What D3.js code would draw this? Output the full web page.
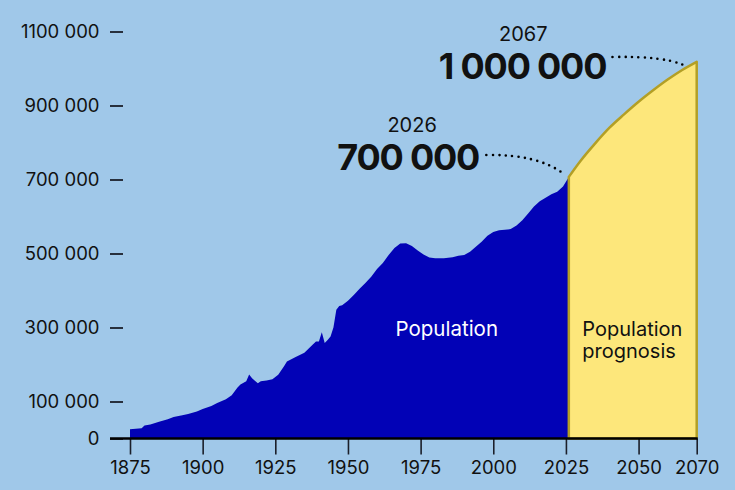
<!DOCTYPE html>
<html>
	<head>
		<title>Population and prognosis</title>
		<script src="https://cdnjs.cloudflare.com/ajax/libs/d3/7.8.5/d3.min.js"></script>
		<style>
			html, body {
				margin: 0;
				padding: 0;
				background: #a0c8e9;
			}
			svg text {
				font-family: Inter, "Liberation Sans", sans-serif;
				fill: #111;
			}
			.axis text {
				font-size: 18.5px;
			}
			.axis line {
				stroke: #1b1f2a;
			}
		</style>
	</head>
	<body>
		<div id="chart"></div>
		<script>
			// population, in thousands
			var histYears = [1875, 1878, 1879, 1880, 1882, 1885, 1888, 1890, 1893, 1895, 1898, 1900,
				1903, 1905, 1908, 1910, 1912, 1913, 1915, 1916, 1917, 1919, 1920, 1922, 1924, 1926,
				1928, 1929, 1932, 1935, 1938, 1939, 1940, 1941, 1942, 1943, 1944, 1945, 1946, 1947,
				1948, 1950, 1952, 1954, 1956, 1958, 1960, 1962, 1964, 1966, 1968, 1970, 1972, 1974,
				1976, 1978, 1980, 1983, 1986, 1988, 1990, 1992, 1994, 1996, 1998, 2000, 2002, 2004,
				2006, 2008, 2010, 2012, 2014, 2016, 2018, 2020, 2022, 2024, 2026];
			var histValues = [25, 27, 28, 35, 38, 45, 52, 58, 63, 66, 73, 80,
				88, 96, 106, 117, 138, 146, 155, 173, 163, 149, 155, 157, 160, 172,
				195, 208, 220, 232, 255, 262, 262, 287, 258, 266, 276, 300, 348, 358,
				360, 372, 388, 405, 420, 437, 458, 474, 496, 515, 527, 528, 520, 508,
				497, 489, 487, 487, 490, 494, 496, 505, 518, 532, 548, 558, 563, 564,
				566, 576, 590, 608, 627, 641, 651, 660, 667, 681, 707];

			var progYears = [2026, 2030, 2035, 2040, 2045, 2050, 2055, 2060, 2065, 2070];
			var progValues = [707, 750, 797, 840, 876, 910, 941, 970, 996, 1018];

			var xTicks = [1875, 1900, 1925, 1950, 1975, 2000, 2025, 2050, 2070];
			var yTicks = [0, 100, 300, 500, 700, 900, 1100];
			var yTickLabels = ["0", "100 000", "300 000", "500 000", "700 000", "900 000", "1100 000"];

			var annoYears = [2026, 2067];
			var annoValues = [700, 1000];
			var annoLabels = ["700 000", "1 000 000"];

			var areaLabels = ["Population", "Population", "prognosis"];

			var width = 735,
				height = 490;

			var x = d3.scaleLinear().domain([1875, 2070]).range([130, 696.7]);
			var y = d3.scaleLinear().domain([0, 1100]).range([438.5, 31.5]);

			var hist = histYears.map(function(d, i) { return {year: d, value: histValues[i]}; });
			var prog = progYears.map(function(d, i) { return {year: d, value: progValues[i]}; });

			var svg = d3.select("#chart")
				.append("svg")
				.attr("width", width)
				.attr("height", height);

			svg.append("rect")
				.attr("width", width)
				.attr("height", height)
				.attr("fill", "#a0c8e9");

			var area = d3.area()
				.x(function(d) { return x(d.year); })
				.y0(y(0))
				.y1(function(d) { return y(d.value); });

			svg.append("path")
				.datum(hist)
				.attr("d", area)
				.attr("fill", "#0202b6");

			var progArea = d3.area()
				.curve(d3.curveMonotoneX)
				.x(function(d) { return x(d.year); })
				.y0(y(0))
				.y1(function(d) { return y(d.value); });

			svg.append("path")
				.datum(prog)
				.attr("d", progArea)
				.attr("fill", "#fde77b")
				.attr("stroke", "#b39f25")
				.attr("stroke-width", 2.5)
				.attr("stroke-linejoin", "round");

			// area labels
			svg.append("text")
				.attr("x", x(1984))
				.attr("y", 335.5)
				.attr("text-anchor", "middle")
				.style("font-size", "20.5px")
				.style("fill", "#fff")
				.text(areaLabels[0]);

			svg.append("text")
				.attr("x", x(2026) + 13.5)
				.attr("y", 335.5)
				.style("font-size", "20px")
				.text(areaLabels[1]);

			svg.append("text")
				.attr("x", x(2026) + 13.5)
				.attr("y", 358)
				.style("font-size", "20px")
				.text(areaLabels[2]);

			// y axis
			var yAxis = d3.axisLeft(y)
				.tickValues(yTicks)
				.tickSize(13)
				.tickPadding(10.5)
				.tickFormat(function(d, i) { return yTickLabels[i]; });

			var gy = svg.append("g")
				.attr("class", "axis")
				.attr("transform", "translate(123,0)")
				.call(yAxis);
			gy.select(".domain").remove();
			gy.selectAll("line").attr("stroke-width", 1.8);

			// x axis
			var xAxis = d3.axisBottom(x)
				.tickValues(xTicks)
				.tickSize(16)
				.tickPadding(6)
				.tickFormat(d3.format("d"));

			var gx = svg.append("g")
				.attr("class", "axis")
				.attr("transform", "translate(0," + y(0) + ")")
				.call(xAxis);
			gx.select(".domain").remove();
			gx.selectAll("line").attr("stroke-width", 1.6);

			svg.append("line")
				.attr("x1", 110)
				.attr("x2", x(2070) + 1)
				.attr("y1", y(0))
				.attr("y2", y(0))
				.attr("stroke", "#000")
				.attr("stroke-width", 2.6);

			// annotations: label offsets and dotted leader, relative to the marked point
			var annoLayout = [
				{dx: -89.7, dy: -9.5, yearDx: -67, sx: -82.5, sy: -24.5, cx: -30, cy: -25.5, ex: -3.5, ey: -4.5},
				{dx: -81.7, dy: 10.5, yearDx: -83, sx: -75.5, sy: -11.5, cx: -25, cy: -12.5, ex: -4.5, ey: -3.5}
			];

			annoYears.forEach(function(yr, i) {
				var px = x(yr),
					py = y(annoValues[i]),
					o = annoLayout[i];

				svg.append("text")
					.attr("x", px + o.dx)
					.attr("y", py + o.dy)
					.attr("text-anchor", "end")
					.style("font-size", "36px")
					.style("font-weight", 700)
					.style("letter-spacing", "-1.2px")
					.text(annoLabels[i]);

				svg.append("text")
					.attr("x", px + o.dx + o.yearDx)
					.attr("y", py + o.dy - 38.5)
					.attr("text-anchor", "middle")
					.style("font-size", "20px")
					.text(yr);

				svg.append("path")
					.attr("d", "M" + (px + o.sx) + "," + (py + o.sy) +
						" Q" + (px + o.cx) + "," + (py + o.cy) + " " + (px + o.ex) + "," + (py + o.ey))
					.attr("fill", "none")
					.attr("stroke", "#000")
					.attr("stroke-width", 2.6)
					.attr("stroke-linecap", "round")
					.attr("stroke-dasharray", "0 6.4");
			});
		</script>
	</body>
</html>
